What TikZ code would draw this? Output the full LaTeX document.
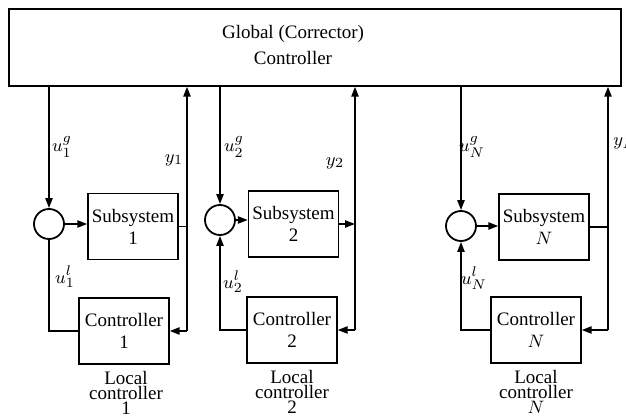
\documentclass[tikz,border=0pt]{standalone}
\usepackage{fontspec}
\setmainfont{Liberation Serif}
\usetikzlibrary{arrows.meta,positioning,calc}

\begin{document}
\begin{tikzpicture}[
  x=0.5pt, y=-0.5pt,
  every node/.style={font=\fontsize{9.5}{11}\selectfont},
  box/.style={
    draw,
    line width=0.7pt,
    align=center,
    minimum width=45pt,
    minimum height=33pt,
    inner sep=0pt
  },
  sumnode/.style={draw, circle, line width=0.9pt, minimum size=15pt, inner sep=0pt},
  % arrows and plain wires share the same weight
  arrow/.style={-{Triangle[length=5pt,width=3.6pt]}, line width=0.9pt},
  wire/.style={line width=0.9pt},
  sig/.style={inner sep=0pt},
  caption/.style={align=center, font=\fontsize{9.5}{7.6}\selectfont}
]
\useasboundingbox (0,0) rectangle (626,416);

% ------------------------------------------------
% Global controller
% ------------------------------------------------
\node[box, minimum width=306pt, minimum height=38.5pt] (global) at (315,47.5) {};
\node[align=center, font=\fontsize{9.5}{13}\selectfont] (globaltxt) at (293,45) {Global (Corrector)\\Controller};

% ------------------------------------------------
% Subsystem 1
% ------------------------------------------------
\node[sumnode] (sum1) at (49,224) {};
\node[box] (sub1)  at (133,226.5) {Subsystem\\1};
\node[box] (ctrl1) at (124,331) {Controller\\1};
\coordinate (fb1) at (187,331);
\node[caption] (loc1) at (126,393) {Local\\controller\\1};

% ------------------------------------------------
% Subsystem 2
% ------------------------------------------------
\node[sumnode] (sum2) at (220,220) {};
\node[box] (sub2)  at (293.5,224) {Subsystem\\2};
\node[box] (ctrl2) at (292,330) {Controller\\2};
\coordinate (fb2) at (355,330);
\node[caption] (loc2) at (292,392) {Local\\controller\\2};

% ------------------------------------------------
% Subsystem N
% ------------------------------------------------
\node[sumnode] (sumN) at (461,226) {};
\node[box] (subN)  at (544,227) {Subsystem\\$N$};
\node[box] (ctrlN) at (536,330) {Controller\\$N$};
\coordinate (fbN) at (608,330);
\node[caption] (locN) at (536,392) {Local\\controller\\$N$};

% ------------------------------------------------
% Signal labels
% ------------------------------------------------
\node[sig] (lug1) at (62,147)  {$u_1^g$};
\node[sig] (ly1)  at (174,160) {$y_1$};
\node[sig] (lul1) at (65,277)  {$u_1^l$};
\node[sig] (lug2) at (234,147) {$u_2^g$};
\node[sig] (ly2)  at (335,163) {$y_2$};
\node[sig] (lul2) at (233,282) {$u_2^l$};
\node[sig] (lugN) at (472,147) {$u_N^g$};
\node[sig, anchor=west] (lyN) at (613,143) {$y_N$};
\node[sig] (lulN) at (474,278) {$u_N^l$};

% ------------------------------------------------
% Arrows
% ------------------------------------------------
% loop 1
\draw[arrow] (global.south -| sum1) -- (sum1.north);
\draw[arrow] (sum1.east) -- (sum1.east -| sub1.west);
\draw[wire]  (sub1.east) -- (sub1.east -| fb1);
\draw[arrow] (fb1) -- (fb1 |- global.south);
\draw[arrow] (fb1) -- (ctrl1.east);
\draw[wire]  (ctrl1.west) -| (sum1.south);

% loop 2
\draw[arrow] (global.south -| sum2) -- (sum2.north);
\draw[arrow] (sum2.east) -- (sum2.east -| sub2.west);
\draw[arrow] (sub2.east) -- (sub2.east -| fb2);
\draw[arrow] (fb2) -- (fb2 |- global.south);
\draw[arrow] (fb2) -- (ctrl2.east);
\draw[arrow] (ctrl2.west) -| (sum2.south);

% loop N
\draw[arrow] (global.south -| sumN) -- (sumN.north);
\draw[arrow] (sumN.east) -- (sumN.east -| subN.west);
\draw[wire]  (subN.east) -- (subN.east -| fbN);
\draw[arrow] (fbN) -- (fbN |- global.south);
\draw[arrow] (fbN) -- (ctrlN.east);
\draw[arrow] (ctrlN.west) -| (sumN.south);

\end{tikzpicture}
\end{document}
